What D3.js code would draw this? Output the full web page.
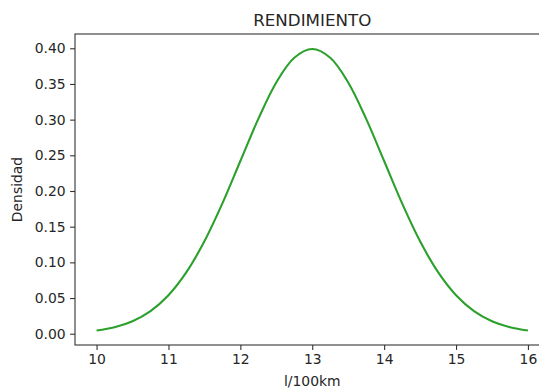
<!DOCTYPE html>
<html>
<head>
<meta charset="utf-8">
<script src="https://cdn.jsdelivr.net/npm/d3@7"></script>
<style>
  body { margin: 0; background: #fff; }
  svg text { font-family: "DejaVu Sans", sans-serif; fill: #262626; }
</style>
</head>
<body>
<svg id="chart"></svg>
<script>
// values (l/100km vs densidad)
const consumo = [10, 10.25, 10.5, 10.75, 11, 11.25, 11.5, 11.75, 12, 12.25, 12.5, 12.75, 13,
                 13.25, 13.5, 13.75, 14, 14.25, 14.5, 14.75, 15, 15.25, 15.5, 15.75, 16];
const densidad = [0.0044, 0.0091, 0.0175, 0.0317, 0.0540, 0.0863, 0.1295, 0.1826, 0.2420, 0.3011, 0.3521, 0.3867, 0.3989,
                  0.3867, 0.3521, 0.3011, 0.2420, 0.1826, 0.1295, 0.0863, 0.0540, 0.0317, 0.0175, 0.0091, 0.0044];
const xTicks = [10, 11, 12, 13, 14, 15, 16];
const yTicks = [0, 0.05, 0.10, 0.15, 0.20, 0.25, 0.30, 0.35, 0.40];

const width = 539, height = 389;
const plot = { left: 75, right: 549.5, top: 34, bottom: 345 };

const svg = d3.select('#chart')
  .attr('width', width)
  .attr('height', height);

const x = d3.scaleLinear().domain([9.7, 16.3]).range([plot.left, plot.right]);
const y = d3.scaleLinear().domain([-0.0158, 0.42]).range([plot.bottom, plot.top]);

// axes
const xAxis = svg.append('g')
  .attr('transform', 'translate(0,' + plot.bottom + ')')
  .call(d3.axisBottom(x).tickValues(xTicks).tickFormat(d3.format('d')).tickSize(4.9).tickPadding(4.5));
const yAxis = svg.append('g')
  .attr('transform', 'translate(' + plot.left + ',0)')
  .call(d3.axisLeft(y).tickValues(yTicks).tickFormat(d3.format('.2f')).tickSize(4.9).tickPadding(4.5));

[xAxis, yAxis].forEach(a => {
  a.select('.domain').remove();
  a.selectAll('.tick line').attr('stroke', '#333').attr('stroke-width', 1.1);
  a.selectAll('.tick text').style('font-size', '13.9px').attr('fill', '#262626');
});

// frame (spines)
svg.append('rect')
  .attr('x', plot.left).attr('y', plot.top)
  .attr('width', plot.right - plot.left).attr('height', plot.bottom - plot.top)
  .attr('fill', 'none').attr('stroke', '#333').attr('stroke-width', 1.1);

// curve
const pts = consumo.map((c, i) => ({ c: c, d: densidad[i] }));
const line = d3.line()
  .x(d => x(d.c))
  .y(d => y(d.d))
  .curve(d3.curveCatmullRom);

svg.append('path')
  .attr('d', line(pts))
  .attr('fill', 'none')
  .attr('stroke', '#2ca02c')
  .attr('stroke-width', 2.1);

// labels
svg.append('text')
  .attr('x', (plot.left + plot.right) / 2).attr('y', 26)
  .attr('text-anchor', 'middle')
  .style('font-size', '16.7px')
  .text('RENDIMIENTO');

svg.append('text')
  .attr('x', (plot.left + plot.right) / 2).attr('y', 386)
  .attr('text-anchor', 'middle')
  .style('font-size', '13.9px')
  .text('l/100km');

svg.append('text')
  .attr('transform', 'translate(22,' + ((plot.top + plot.bottom) / 2) + ') rotate(-90)')
  .attr('text-anchor', 'middle')
  .style('font-size', '13.9px')
  .text('Densidad');
</script>
</body>
</html>
